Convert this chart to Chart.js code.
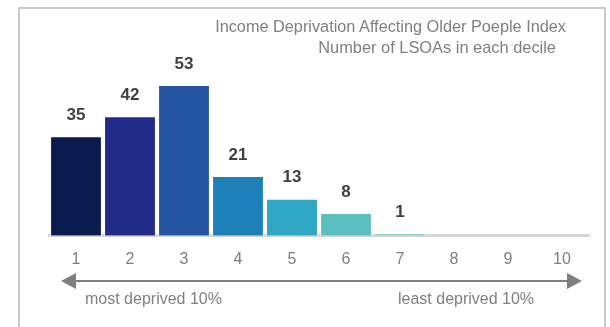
<!DOCTYPE html>
<html>
<head>
<meta charset="utf-8">
<script src="https://cdn.jsdelivr.net/npm/chart.js@4/dist/chart.umd.min.js"></script>
<style>
  html, body { margin: 0; padding: 0; background: #fff; }
  #wrap { position: relative; width: 610px; height: 327px; overflow: hidden; font-family: "Liberation Sans", Arial, sans-serif; }
  #frame { position: absolute; left: 18px; top: 7px; width: 588px; height: 340px; border: 2px solid #c9c9c9; box-sizing: border-box; }
  canvas { position: absolute; left: 0; top: 0; }
  .t { position: absolute; color: #7f7f7f; font-size: 16px; white-space: nowrap; }
  #title1 { right: 44px; top: 17px; font-size: 16.3px; }
  #title2 { right: 54px; top: 38px; font-size: 16.4px; }
  #capL { left: 85px; top: 290px; }
  #capR { left: 398px; top: 290px; }
  svg { position: absolute; left: 0; top: 0; }
</style>
</head>
<body>
<div id="wrap">
  <div id="frame"></div>
  <canvas id="c" width="610" height="327"></canvas>
  <div class="t" id="title1">Income Deprivation Affecting Older Poeple Index</div>
  <div class="t" id="title2">Number of LSOAs in each decile</div>
  <svg width="610" height="327">
    <line x1="70" y1="281" x2="572" y2="281" stroke="#7f7f7f" stroke-width="2"/>
    <polygon points="61,281 76,273 76,289" fill="#7f7f7f"/>
    <polygon points="582,281 567,273 567,289" fill="#7f7f7f"/>
  </svg>
  <div class="t" id="capL">most deprived 10%</div>
  <div class="t" id="capR">least deprived 10%</div>
</div>
<script>
const deciles = ["1","2","3","4","5","6","7","8","9","10"];
const lsoaCounts = [35, 42, 53, 21, 13, 8, 1, 0, 0, 0];
const barColors = ["#0b1b50","#232b88","#2354a0","#1e80b8","#2ea8c5","#5bbfc0","#8fd9b9","#8fd9b9","#8fd9b9","#8fd9b9"];

const valueLabels = {
  id: 'valueLabels',
  afterDatasetsDraw(chart) {
    const ctx = chart.ctx;
    const meta = chart.getDatasetMeta(0);
    ctx.save();
    ctx.font = 'bold 17px "Liberation Sans", Arial, sans-serif';
    ctx.fillStyle = '#404040';
    ctx.textAlign = 'center';
    ctx.textBaseline = 'middle';
    meta.data.forEach((bar, i) => {
      const v = chart.data.datasets[0].data[i];
      if (v > 0) ctx.fillText(String(v), bar.x, bar.y - 21);
    });
    ctx.restore();
  }
};

new Chart(document.getElementById('c'), {
  type: 'bar',
  data: {
    labels: deciles,
    datasets: [{
      data: lsoaCounts,
      backgroundColor: barColors,
      borderColor: '#ffffff',
      borderWidth: 1,
      barPercentage: 0.96,
      categoryPercentage: 1.0
    }]
  },
  options: {
    responsive: false,
    animation: false,
    devicePixelRatio: 1,
    layout: { padding: { left: 49, right: 21, top: 65, bottom: 52 } },
    plugins: { legend: { display: false }, title: { display: false }, tooltip: { enabled: false } },
    scales: {
      x: {
        grid: { display: false },
        border: { display: true, color: '#d6d6d6', width: 3 },
        ticks: { color: '#7f7f7f', font: { family: '"Liberation Sans", Arial, sans-serif', size: 16 }, padding: 6 }
      },
      y: { display: false, min: 0, max: 60 }
    }
  },
  plugins: [valueLabels]
});
</script>
</body>
</html>
